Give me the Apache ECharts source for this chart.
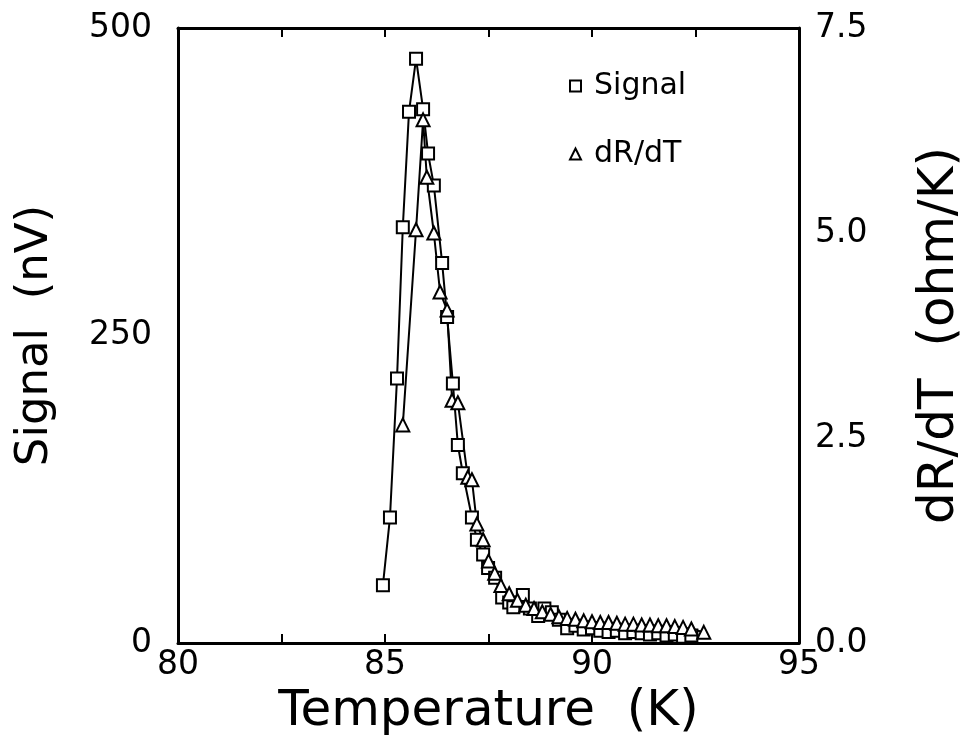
<!DOCTYPE html>
<html><head><meta charset="utf-8">
<script src="https://cdn.jsdelivr.net/npm/echarts@6/dist/echarts.min.js"></script>
<style>html,body{margin:0;padding:0;background:#fff}#c{width:973px;height:742px}</style>
</head><body><div id="c"></div>
<script>
const signalT = [84.95,85.12,85.29,85.43,85.58,85.75,85.92,86.04,86.18,86.38,86.50,86.64,86.76,86.88,87.10,87.22,87.37,87.49,87.66,87.83,88.00,88.10,88.33,88.50,88.70,88.85,89.03,89.20,89.40,89.60,89.80,90.00,90.20,90.40,90.60,90.80,91.00,91.20,91.40,91.60,91.80,92.00,92.20,92.40];
const signalV = [47,102,215,338,432,475,434,398,372,309,265,211,161,138,102,84,72,61,53,37,33,29,39,28,22,28,25,19,12,14,11,12,10,9,10,8,9,8,7,8,6,7,5,6];
const dRdTT = [85.43,85.75,85.92,86.01,86.18,86.33,86.50,86.62,86.76,87.00,87.10,87.22,87.37,87.50,87.65,87.80,88.00,88.20,88.40,88.60,88.80,89.00,89.20,89.40,89.60,89.80,90.00,90.20,90.40,90.60,90.80,91.00,91.20,91.40,91.60,91.80,92.00,92.20,92.40,92.70];
const dRdTV = [2.66,5.04,6.38,5.68,5.00,4.28,4.06,2.96,2.93,2.02,1.99,1.45,1.26,1.00,0.85,0.70,0.60,0.52,0.46,0.42,0.38,0.35,0.32,0.30,0.29,0.27,0.26,0.25,0.25,0.24,0.23,0.23,0.22,0.22,0.21,0.21,0.20,0.19,0.17,0.13];
const xTicks = [80,85,90,95];
const leftTicks = [0,250,500];
const rightTicks = ['0.0','2.5','5.0','7.5'];

const FONT = 'DejaVu Sans';
const chart = echarts.init(document.getElementById('c'), null, {renderer:'canvas'});
const zip = (a,b)=>a.map((v,i)=>[v,b[i]]);
chart.setOption({
  animation:false,
  backgroundColor:'#fff',
  grid:{left:178,right:174,top:28,bottom:99},
  legend:{
    orient:'vertical', left:564, top:66, itemGap:38, itemWidth:11, itemHeight:11,
    textStyle:{fontFamily:FONT,fontSize:30,color:'#000',padding:[0,0,0,8]},
    data:[
      {name:'Signal',icon:'rect',itemStyle:{color:'#fff',borderColor:'#000',borderWidth:2}},
      {name:'dR/dT',icon:'triangle',itemStyle:{color:'#fff',borderColor:'#000',borderWidth:2}}
    ]
  },
  xAxis:[{
    type:'value',min:80,max:95,interval:5,position:'bottom',
    name:'Temperature  (K)',nameLocation:'middle',nameGap:32,
    nameTextStyle:{fontFamily:FONT,fontSize:50,color:'#000'},
    axisLine:{onZero:false,lineStyle:{color:'#000',width:3}},
    axisTick:{inside:true,length:9,lineStyle:{color:'#000',width:2}},
    minorTick:{show:true,splitNumber:2,length:9,lineStyle:{color:'#000',width:2}},
    axisLabel:{fontFamily:FONT,fontSize:33,color:'#000',margin:6,
      formatter:v=>xTicks.includes(v)?String(v):''},
    splitLine:{show:false}
  },{
    type:'value',min:80,max:95,interval:5,position:'top',
    axisLine:{show:true,onZero:false,lineStyle:{color:'#000',width:3}},
    axisTick:{show:true,inside:true,length:9,lineStyle:{color:'#000',width:2}},
    minorTick:{show:true,splitNumber:2,length:9,lineStyle:{color:'#000',width:2}},
    axisLabel:{show:false},splitLine:{show:false}
  }],
  yAxis:[{
    type:'value',min:0,max:500,interval:250,position:'left',
    name:'Signal  (nV)',nameLocation:'middle',nameGap:120,
    nameTextStyle:{fontFamily:FONT,fontSize:45,color:'#000'},
    axisLine:{show:true,onZero:false,lineStyle:{color:'#000',width:3}},
    axisTick:{show:false},
    axisLabel:{fontFamily:FONT,fontSize:33,color:'#000',margin:26,
      formatter:v=>leftTicks.includes(v)?String(v):''},
    splitLine:{show:false}
  },{
    type:'value',min:0,max:7.5,interval:2.5,position:'right',
    name:'dR/dT  (ohm/K)',nameLocation:'middle',nameGap:116,
    nameTextStyle:{fontFamily:FONT,fontSize:50,color:'#000'},
    axisLine:{show:true,onZero:false,lineStyle:{color:'#000',width:3}},
    axisTick:{show:false},
    axisLabel:{fontFamily:FONT,fontSize:33,color:'#000',margin:16,
      formatter:v=>rightTicks[Math.round(v/2.5)]},
    splitLine:{show:false}
  }],
  series:[{
    name:'Signal',type:'line',xAxisIndex:0,yAxisIndex:0,
    data:zip(signalT,signalV),
    symbol:'emptyRect',symbolSize:12,
    lineStyle:{color:'#000',width:2},
    itemStyle:{color:'#000',borderColor:'#000',borderWidth:2.5}
  },{
    name:'dR/dT',type:'line',xAxisIndex:0,yAxisIndex:1,
    data:zip(dRdTT,dRdTV),
    symbol:'emptyTriangle',symbolSize:13,
    lineStyle:{color:'#000',width:2},
    itemStyle:{color:'#000',borderColor:'#000',borderWidth:2.5}
  }]
});
</script></body></html>
